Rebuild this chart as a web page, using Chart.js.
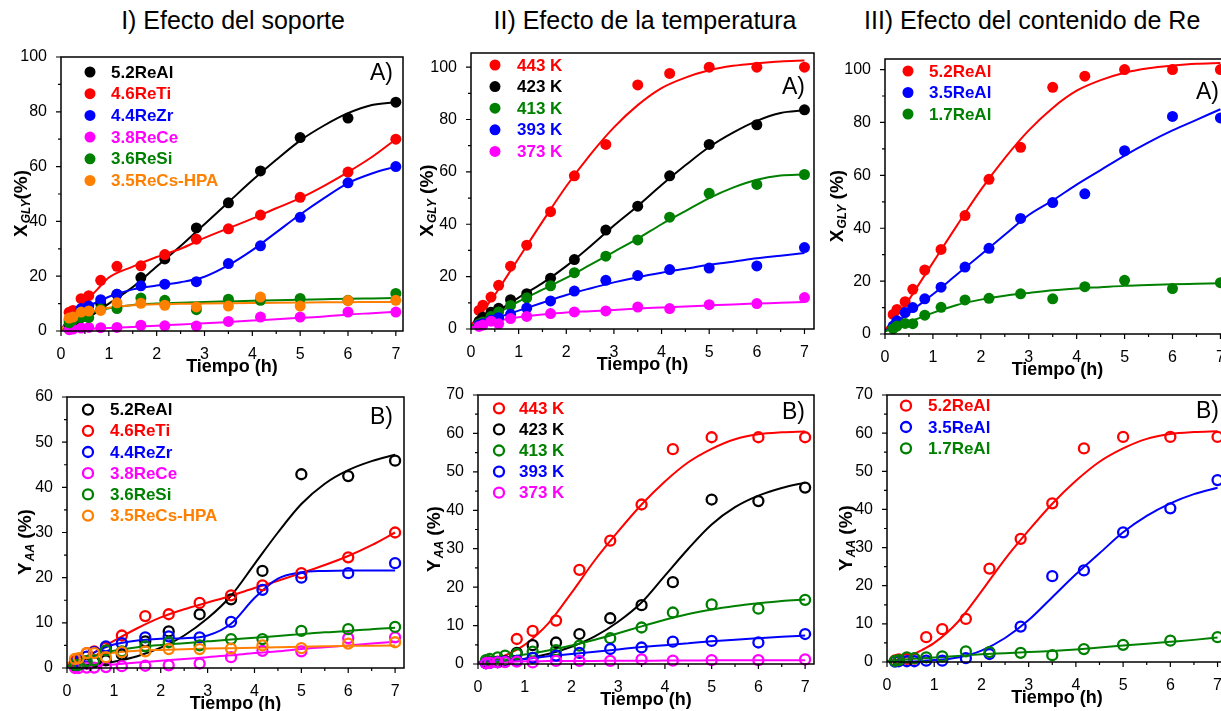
<!DOCTYPE html>
<html lang="es">
<head>
<meta charset="UTF-8">
<title>Efecto del soporte, temperatura y contenido de Re</title>
<script src="https://cdn.jsdelivr.net/npm/chart.js"></script>
<style>
  body { margin: 0; width: 1221px; height: 711px; overflow: hidden; background: #fff; position: relative; font-family: "Liberation Sans", Arial, sans-serif; }
  canvas { position: absolute; }
  .ttl { position: absolute; top: 6px; font-size: 25px; color: #000; white-space: nowrap; }
</style>
</head>
<body>
<div class="ttl" style="left:0;width:466px;text-align:center">I) Efecto del soporte</div>
<div class="ttl" style="left:445px;width:400px;text-align:center">II) Efecto de la temperatura</div>
<div class="ttl" style="left:864px">III) Efecto del contenido de Re</div>

<canvas id="p1"></canvas>
<canvas id="p2"></canvas>
<canvas id="p3"></canvas>
<canvas id="p4"></canvas>
<canvas id="p5"></canvas>
<canvas id="p6"></canvas>

<script>
// sampling times (h) of the experimental points
const T = [0.17, 0.25, 0.42, 0.58, 0.83, 1.17, 1.67, 2.17, 2.83, 3.5, 4.17, 5, 6, 7];
// times at which the fitted curves were read
const FT = [0, 0.25, 0.5, 0.75, 1, 1.5, 2, 2.5, 3, 3.5, 4, 4.5, 5, 5.5, 6, 6.5, 7];

// I-A) X_GLY, support
const x1_ReAl = [2, 3, 5, 7, 10, 13.4, 19.5, 26.3, 37.6, 46.8, 58.4, 70.6, 77.7, 83.5];
const x1_ReTi = [6.8, 7.5, 11.8, 12.9, 18.5, 23.6, 23.8, 27.9, 33.5, 37.3, 42.3, 48.8, 58, 70];
const x1_ReZr = [4, 5, 8.2, 9.1, 11.4, 13.4, 16.5, 17.1, 18, 24.6, 31.1, 41.5, 54.1, 60];
const x1_ReCe = [0.5, 0.7, 1.1, 1.3, 1.2, 1.3, 2.1, 1.9, 1.8, 3.5, 5.1, 5.1, 6.9, 6.9];
const x1_ReSi = [3, 4, 4.9, 4.9, 8, 8.2, 12, 11.2, 7.8, 11.6, 11.2, 11.9, 11.2, 13.7];
const x1_ReCs = [4.7, 5.1, 6.9, 7.3, 7.5, 10.3, 10.1, 9.4, 8.8, 9.1, 12.4, 9.1, 11.1, 11.2];
const f1_ReAl = [0.5, 2, 4, 7, 10, 16, 23.5, 31, 39, 47, 55, 62.5, 69.5, 75, 79.5, 82.5, 83.5];
const f1_ReTi = [0.5, 6.5, 10.5, 15, 19.5, 23.5, 27, 30, 34, 37.5, 41, 44.8, 48.5, 53, 58, 63.5, 70];
const f1_ReZr = [0.5, 6, 8.5, 10.5, 12.5, 15.2, 16.6, 17.8, 19.8, 24, 29.5, 36, 42.5, 48.5, 54, 57.5, 60];
const f1_ReCe = [0.3, 0.5, 0.7, 0.9, 1.1, 1.5, 1.9, 2.4, 2.8, 3.3, 3.8, 4.3, 4.8, 5.3, 6, 6.5, 7];
const f1_ReSi = [0.5, 4, 6, 7.3, 8.3, 9.5, 10, 10.3, 10.6, 10.8, 11, 11.2, 11.4, 11.6, 11.8, 11.9, 12];
const f1_ReCs = [0.5, 5, 6.5, 7.7, 8.5, 9.4, 9.8, 9.9, 10, 10.1, 10.2, 10.3, 10.4, 10.5, 10.5, 10.6, 10.6];

// II-A) X_GLY, temperature
const x2_443 = [7.1, 9.1, 12.2, 16.7, 24, 32, 44.8, 58.5, 70.5, 93.2, 97.6, 100, 100, 100];
const x2_423 = [3, 4.5, 6.4, 7.9, 11.2, 13.5, 19.4, 26.5, 37.8, 46.9, 58.5, 70.5, 78, 83.7];
const x2_413 = [2, 2.7, 4.8, 6.5, 9, 11.9, 16.5, 21.5, 27.8, 34, 42.7, 51.8, 55.2, 59];
const x2_393 = [1.5, 2, 3.3, 4.3, 5.6, 8, 10.7, 14.5, 18.6, 20.4, 22.7, 23.3, 24.1, 31.1];
const x2_373 = [1, 1.5, 3, 2, 4, 4.8, 5.9, 6.5, 6.9, 8.4, 7.8, 9.3, 9.7, 12];
const f2_443 = [1.5, 7, 13, 20, 27, 41, 54.5, 66.5, 77, 85.5, 92, 96, 98.8, 100.5, 101.5, 102.2, 102.5];
const f2_423 = [1, 3.5, 6, 9, 12, 17.5, 24, 31.5, 39.5, 47, 55, 62.5, 69.5, 75, 79.5, 82.5, 83.5];
const f2_413 = [1, 3, 5.5, 8, 10.5, 15, 19.5, 24.5, 29.5, 34.5, 40, 45, 50, 54, 57, 58.6, 59];
const f2_393 = [0.5, 2.3, 4, 5.5, 7, 10, 13, 15.5, 17.8, 19.8, 21.5, 23, 24.5, 25.7, 27, 28, 29];
const f2_373 = [0.5, 1.8, 3, 3.8, 4.5, 5.5, 6.3, 6.8, 7.3, 7.8, 8.2, 8.6, 9, 9.4, 9.7, 10, 10.3];

// III-A) X_GLY, Re content
const x3_52 = [7.4, 9.3, 12.2, 16.9, 24.2, 32, 44.8, 58.5, 70.6, 93.3, 97.5, 100, 100, 100];
const x3_35 = [3, 5, 8.1, 10, 13.3, 17.7, 25.3, 32.4, 43.7, 49.7, 53, 69.3, 82.3, 81.7];
const x3_17 = [2, 3, 4, 3.9, 7.1, 10.1, 12.9, 13.5, 15.2, 13.3, 17.9, 20.3, 17.2, 19.4];
const f3_52 = [1.5, 7, 13, 20, 27, 41, 54.5, 66.5, 77, 85.5, 92, 96, 98.8, 100.5, 101.5, 102.2, 102.5];
const f3_35 = [1, 4.5, 8, 11.5, 15, 22.5, 30, 37.5, 45, 50.5, 56.5, 62, 67.5, 72.5, 77, 81, 85];
const f3_17 = [1, 2.8, 4.5, 6.3, 8, 11, 13, 14.5, 15.5, 16.5, 17.2, 17.7, 18.2, 18.5, 18.8, 19, 19.2];

// I-B) Y_AA, support
const y4_ReAl = [0.5, 0.8, 1, 1.3, 1.7, 3, 5.9, 8.1, 11.9, 15.2, 21.5, 42.9, 42.5, 45.9];
const y4_ReTi = [1.5, 2, 3.3, 3.7, 4.5, 7.2, 11.5, 11.9, 14.4, 16.1, 18.3, 21, 24.5, 30];
const y4_ReZr = [1, 1.5, 2.5, 3.5, 4.8, 5.5, 6.8, 7, 6.8, 10.2, 17.3, 20, 21, 23.2];
const y4_ReCe = [0, 0, 0.1, 0.1, 0.2, 0.4, 0.5, 0.6, 1, 2.4, 3.8, 3.7, 6.6, 6.8];
const y4_ReSi = [0.7, 0.7, 1.5, 1.7, 3.9, 3.7, 4.8, 5.7, 5, 6.4, 6.4, 8.2, 8.6, 9.1];
const y4_ReCs = [2, 2.2, 3.3, 3.3, 2.4, 3.5, 3.7, 4.2, 4.2, 4.3, 5, 4.4, 5.4, 5.7];
const g4_ReAl = [0.2, 0.4, 0.7, 1, 1.4, 2.6, 4.5, 7.2, 11, 16, 23, 30, 36.3, 40.8, 43.8, 45.8, 47.2];
const g4_ReTi = [0.5, 1.8, 3, 4.5, 6, 8.8, 11.2, 13, 14.5, 16, 17.7, 19.3, 21, 22.8, 24.8, 27.2, 30];
const g4_ReZr = [0.3, 1.8, 3, 4.3, 5.2, 6.1, 6.5, 6.6, 7.2, 9.8, 15.5, 19.8, 21.2, 21.5, 21.6, 21.6, 21.6];
const g4_ReCe = [0, 0.2, 0.4, 0.6, 0.8, 1.2, 1.6, 2, 2.4, 2.8, 3.3, 3.7, 4.2, 4.6, 5, 5.4, 5.8];
const g4_ReSi = [0.3, 1.4, 2.5, 3.2, 3.8, 4.6, 5.1, 5.5, 5.9, 6.3, 6.7, 7.1, 7.5, 7.9, 8.2, 8.6, 8.9];
const g4_ReCs = [1, 2.2, 2.8, 3.1, 3.4, 3.8, 4, 4.15, 4.3, 4.4, 4.5, 4.6, 4.7, 4.8, 4.9, 4.95, 5];

// II-B) Y_AA, temperature
const y5_443 = [0.3, 0.6, 0.6, 0.8, 6.5, 8.6, 11.3, 24.5, 32.1, 41.5, 55.9, 59, 59, 59];
const y5_423 = [0.3, 0.4, 0.5, 0.7, 2.9, 4.9, 5.6, 7.8, 11.9, 15.3, 21.3, 42.8, 42.4, 45.9];
const y5_413 = [1, 1.3, 1.7, 2.2, 2.6, 3.2, 3.6, 4.8, 6.7, 9.5, 13.4, 15.5, 14.4, 16.7];
const y5_393 = [0.2, 0.3, 0.5, 0.6, 0.8, 1.6, 2.2, 2.9, 3.9, 4.3, 5.8, 6, 5.6, 7.8];
const y5_373 = [0.2, 0.3, 0.4, 0.5, 0.6, 0.4, 0.8, 0.8, 0.8, 1.2, 0.9, 1, 1, 1.2];
const g5_443 = [0.2, 0.7, 1.8, 3.2, 5, 10.5, 18.5, 27, 34.5, 41.5, 47.5, 52.5, 56, 58.5, 59.8, 60.3, 60.5];
const g5_423 = [0.2, 0.4, 0.7, 1, 1.4, 2.6, 4.5, 7.2, 11, 16, 23, 30, 36.3, 40.8, 43.8, 45.8, 47.2];
const g5_413 = [0.5, 1, 1.5, 2, 2.5, 3.5, 4.8, 6.3, 8, 9.8, 11.5, 13, 14.2, 15.1, 15.8, 16.4, 16.8];
const g5_393 = [0.2, 0.5, 0.8, 1.1, 1.3, 2, 2.6, 3.2, 3.8, 4.4, 4.9, 5.4, 5.9, 6.3, 6.7, 7.1, 7.4];
const g5_373 = [0.2, 0.4, 0.5, 0.6, 0.7, 0.75, 0.8, 0.8, 0.85, 0.85, 0.9, 0.9, 0.95, 0.95, 1, 1, 1];

// III-B) Y_AA, Re content
const y6_52 = [0.4, 0.7, 0.8, 0.9, 6.5, 8.6, 11.3, 24.5, 32.3, 41.6, 56, 59, 59, 59];
const y6_35 = [0.1, 0.2, 0.2, 0.2, 0.35, 0.35, 1, 2.1, 9.3, 22.5, 24, 34, 40.3, 47.7];
const y6_17 = [0.3, 0.5, 1.2, 1, 1.2, 1.5, 2.8, 2.6, 2.4, 1.8, 3.4, 4.5, 5.6, 6.5];
const g6_52 = [0.2, 0.7, 1.8, 3.2, 5, 10.5, 18.5, 27, 34.5, 41.5, 47.5, 52.5, 56, 58.5, 59.8, 60.3, 60.5];
const g6_35 = [0, 0.05, 0.1, 0.3, 0.5, 1.2, 3, 6.3, 11, 17, 23, 28.5, 34, 38.3, 41.6, 44, 45.7];
const g6_17 = [0.3, 0.5, 0.8, 1, 1.2, 1.6, 2, 2.3, 2.6, 2.9, 3.3, 3.8, 4.3, 4.8, 5.3, 5.8, 6.4];

const supportLabels = ['5.2ReAl', '4.6ReTi', '4.4ReZr', '3.8ReCe', '3.6ReSi', '3.5ReCs-HPA'];
const tempLabels = ['443 K', '423 K', '413 K', '393 K', '373 K'];
const reLabels = ['5.2ReAl', '3.5ReAl', '1.7ReAl'];

const BLACK = '#000000', RED = '#FF0000', BLUE = '#0000FF', MAG = '#FF00FF', GREEN = '#008000', ORANGE = '#FF8000';
const FONT = '"Liberation Sans", Arial, sans-serif';

function framePlugin(cfg) {
  return {
    id: 'frame',
    afterDatasetsDraw(chart) {
      const ctx = chart.ctx, a = chart.chartArea;
      const xs = chart.scales.x, ys = chart.scales.y;
      ctx.save();
      ctx.strokeStyle = '#000';
      ctx.lineWidth = 1.5;
      ctx.strokeRect(a.left, a.top, a.right - a.left, a.bottom - a.top);
      // outward ticks
      ctx.lineWidth = 1.2;
      ctx.beginPath();
      for (let v = 0; v <= 7.001; v += 0.5) {
        const px = xs.getPixelForValue(v);
        const len = Math.abs(v - Math.round(v)) < 1e-6 ? 5 : 3;
        ctx.moveTo(px, a.bottom); ctx.lineTo(px, a.bottom + len);
      }
      for (let v = 0; v <= cfg.ymax + 1e-6; v += cfg.ystep / 2) {
        const py = ys.getPixelForValue(v);
        const major = Math.abs(v / cfg.ystep - Math.round(v / cfg.ystep)) < 1e-6;
        ctx.moveTo(a.left, py); ctx.lineTo(a.left - (major ? 5 : 3), py);
      }
      ctx.stroke();

      // x title
      ctx.fillStyle = '#000';
      ctx.font = 'bold 18px ' + FONT;
      ctx.textAlign = 'center';
      ctx.textBaseline = 'middle';
      ctx.fillText('Tiempo (h)', (a.left + a.right) / 2, a.bottom + 36);

      // y title with subscript
      ctx.save();
      ctx.translate(a.left + cfg.ytx, (a.top + a.bottom) / 2 + 10);
      ctx.rotate(-Math.PI / 2);
      ctx.textAlign = 'left';
      const big = 'bold 19px ' + FONT, small = 'italic bold 12px ' + FONT;
      ctx.font = big; const w1 = ctx.measureText(cfg.yt[0]).width;
      ctx.font = small; const w2 = ctx.measureText(cfg.yt[1]).width;
      ctx.font = big; const w3 = ctx.measureText(cfg.yt[2]).width;
      let x0 = -(w1 + w2 + w3) / 2;
      ctx.font = big; ctx.fillText(cfg.yt[0], x0, 0);
      ctx.font = small; ctx.fillText(cfg.yt[1], x0 + w1 + 1, 5);
      ctx.font = big; ctx.fillText(cfg.yt[2], x0 + w1 + w2 + 1, 0);
      ctx.restore();

      // legend
      ctx.font = 'bold 17px ' + FONT;
      ctx.textAlign = 'left';
      cfg.series.forEach((s, i) => {
        const y = a.top + cfg.lg.y0 + i * cfg.lg.dy;
        ctx.beginPath();
        if (cfg.filled) {
          ctx.fillStyle = s.color;
          ctx.arc(a.left + cfg.lg.mx, y, 5.5, 0, Math.PI * 2);
          ctx.fill();
        } else {
          ctx.strokeStyle = s.color; ctx.lineWidth = 2.3;
          ctx.arc(a.left + cfg.lg.mx, y, 5, 0, Math.PI * 2);
          ctx.stroke();
        }
        ctx.fillStyle = s.color;
        ctx.fillText(s.label, a.left + cfg.lg.tx, y + 1);
      });

      // panel letter
      ctx.fillStyle = '#000';
      ctx.font = '23px ' + FONT;
      ctx.textAlign = cfg.letter.align;
      const lx = cfg.letter.align === 'right' ? a.right - cfg.letter.x : a.left + cfg.letter.x;
      ctx.fillText(cfg.letter.text, lx, a.top + cfg.letter.y);
      ctx.restore();
    }
  };
}

function makePanel(cfg) {
  const L = 60, TOP = 20, R = 12, B = 50;
  const w = cfg.area.right - cfg.area.left, h = cfg.area.bottom - cfg.area.top;
  const cv = document.getElementById(cfg.id);
  cv.width = w + L + R; cv.height = h + TOP + B;
  cv.style.left = (cfg.area.left - L) + 'px';
  cv.style.top = (cfg.area.top - TOP) + 'px';

  const datasets = [];
  cfg.series.forEach((s, i) => {
    datasets.push({
      type: 'line',
      data: FT.map((t, j) => ({ x: t, y: s.fit[j] })),
      borderColor: s.color, borderWidth: 2, pointRadius: 0,
      cubicInterpolationMode: 'monotone', fill: false, order: 200 - i
    });
    datasets.push({
      type: 'scatter',
      data: T.map((t, j) => ({ x: t, y: s.pts[j] })),
      pointRadius: cfg.filled ? 5.5 : 5,
      pointBackgroundColor: cfg.filled ? s.color : 'rgba(0,0,0,0)',
      pointBorderColor: s.color,
      pointBorderWidth: cfg.filled ? 0 : 2.3,
      showLine: false, clip: false, order: 100 - i
    });
  });

  const tickFont = { size: 16, family: FONT };
  new Chart(cv, {
    type: 'scatter',
    data: { datasets },
    options: {
      responsive: false, animation: false, devicePixelRatio: 1,
      layout: { padding: { top: TOP, right: R, left: 0, bottom: 0 } },
      plugins: { legend: { display: false }, tooltip: { enabled: false } },
      scales: {
        x: {
          type: 'linear', min: 0, max: cfg.xmax,
          grid: { display: false }, border: { display: false },
          ticks: { stepSize: 1, includeBounds: false, padding: 6, font: tickFont, color: '#000', maxRotation: 0 },
          afterFit: s => { s.height = B; }
        },
        y: {
          type: 'linear', min: 0, max: cfg.ymax,
          grid: { display: false }, border: { display: false },
          ticks: { stepSize: cfg.ystep, includeBounds: false, padding: 6, font: tickFont, color: '#000' },
          afterFit: s => { s.width = L; }
        }
      }
    },
    plugins: [framePlugin(cfg)]
  });
}

makePanel({
  id: 'p1', area: { left: 61, top: 57, right: 403, bottom: 331 }, xmax: 7.15, ymax: 100, ystep: 20, filled: true,
  yt: ['X', 'GLY', '(%)'], ytx: -39,
  lg: { mx: 29, tx: 50, y0: 15, dy: 21.7 }, letter: { text: 'A)', x: 10, y: 17, align: 'right' },
  series: [
    { label: supportLabels[0], color: BLACK, pts: x1_ReAl, fit: f1_ReAl },
    { label: supportLabels[1], color: RED, pts: x1_ReTi, fit: f1_ReTi },
    { label: supportLabels[2], color: BLUE, pts: x1_ReZr, fit: f1_ReZr },
    { label: supportLabels[3], color: MAG, pts: x1_ReCe, fit: f1_ReCe },
    { label: supportLabels[4], color: GREEN, pts: x1_ReSi, fit: f1_ReSi },
    { label: supportLabels[5], color: ORANGE, pts: x1_ReCs, fit: f1_ReCs }
  ]
});

makePanel({
  id: 'p2', area: { left: 471, top: 53, right: 814, bottom: 329 }, xmax: 7.2, ymax: 105.4, ystep: 20, filled: true,
  yt: ['X', 'GLY', ' (%)'], ytx: -43,
  lg: { mx: 24, tx: 46, y0: 12, dy: 21.6 }, letter: { text: 'A)', x: 9, y: 35, align: 'right' },
  series: [
    { label: tempLabels[0], color: RED, pts: x2_443, fit: f2_443 },
    { label: tempLabels[1], color: BLACK, pts: x2_423, fit: f2_423 },
    { label: tempLabels[2], color: GREEN, pts: x2_413, fit: f2_413 },
    { label: tempLabels[3], color: BLUE, pts: x2_393, fit: f2_393 },
    { label: tempLabels[4], color: MAG, pts: x2_373, fit: f2_373 }
  ]
});

makePanel({
  id: 'p3', area: { left: 885, top: 59, right: 1230, bottom: 334 }, xmax: 7.2, ymax: 104, ystep: 20, filled: true,
  yt: ['X', 'GLY', ' (%)'], ytx: -47,
  lg: { mx: 23, tx: 44, y0: 12, dy: 21.5 }, letter: { text: 'A)', x: 311, y: 34, align: 'left' },
  series: [
    { label: reLabels[0], color: RED, pts: x3_52, fit: f3_52 },
    { label: reLabels[1], color: BLUE, pts: x3_35, fit: f3_35 },
    { label: reLabels[2], color: GREEN, pts: x3_17, fit: f3_17 }
  ]
});

makePanel({
  id: 'p4', area: { left: 67, top: 397, right: 404, bottom: 668 }, xmax: 7.19, ymax: 60, ystep: 10, filled: false,
  yt: ['Y', 'AA', ' (%)'], ytx: -41,
  lg: { mx: 21, tx: 43, y0: 12.6, dy: 21.2 }, letter: { text: 'B)', x: 11, y: 21, align: 'right' },
  series: [
    { label: supportLabels[0], color: BLACK, pts: y4_ReAl, fit: g4_ReAl },
    { label: supportLabels[1], color: RED, pts: y4_ReTi, fit: g4_ReTi },
    { label: supportLabels[2], color: BLUE, pts: y4_ReZr, fit: g4_ReZr },
    { label: supportLabels[3], color: MAG, pts: y4_ReCe, fit: g4_ReCe },
    { label: supportLabels[4], color: GREEN, pts: y4_ReSi, fit: g4_ReSi },
    { label: supportLabels[5], color: ORANGE, pts: y4_ReCs, fit: g4_ReCs }
  ]
});

makePanel({
  id: 'p5', area: { left: 478, top: 395, right: 814, bottom: 664 }, xmax: 7.19, ymax: 70, ystep: 10, filled: false,
  yt: ['Y', 'AA', ' (%)'], ytx: -43,
  lg: { mx: 21, tx: 41, y0: 13.3, dy: 21.1 }, letter: { text: 'B)', x: 9, y: 18, align: 'right' },
  series: [
    { label: tempLabels[0], color: RED, pts: y5_443, fit: g5_443 },
    { label: tempLabels[1], color: BLACK, pts: y5_423, fit: g5_423 },
    { label: tempLabels[2], color: GREEN, pts: y5_413, fit: g5_413 },
    { label: tempLabels[3], color: BLUE, pts: y5_393, fit: g5_393 },
    { label: tempLabels[4], color: MAG, pts: y5_373, fit: g5_373 }
  ]
});

makePanel({
  id: 'p6', area: { left: 887, top: 395, right: 1227, bottom: 662 }, xmax: 7.2, ymax: 70, ystep: 10, filled: false,
  yt: ['Y', 'AA', ' (%)'], ytx: -40,
  lg: { mx: 19, tx: 41, y0: 10.7, dy: 21.3 }, letter: { text: 'B)', x: 309, y: 17, align: 'left' },
  series: [
    { label: reLabels[0], color: RED, pts: y6_52, fit: g6_52 },
    { label: reLabels[1], color: BLUE, pts: y6_35, fit: g6_35 },
    { label: reLabels[2], color: GREEN, pts: y6_17, fit: g6_17 }
  ]
});
</script>
</body>
</html>
